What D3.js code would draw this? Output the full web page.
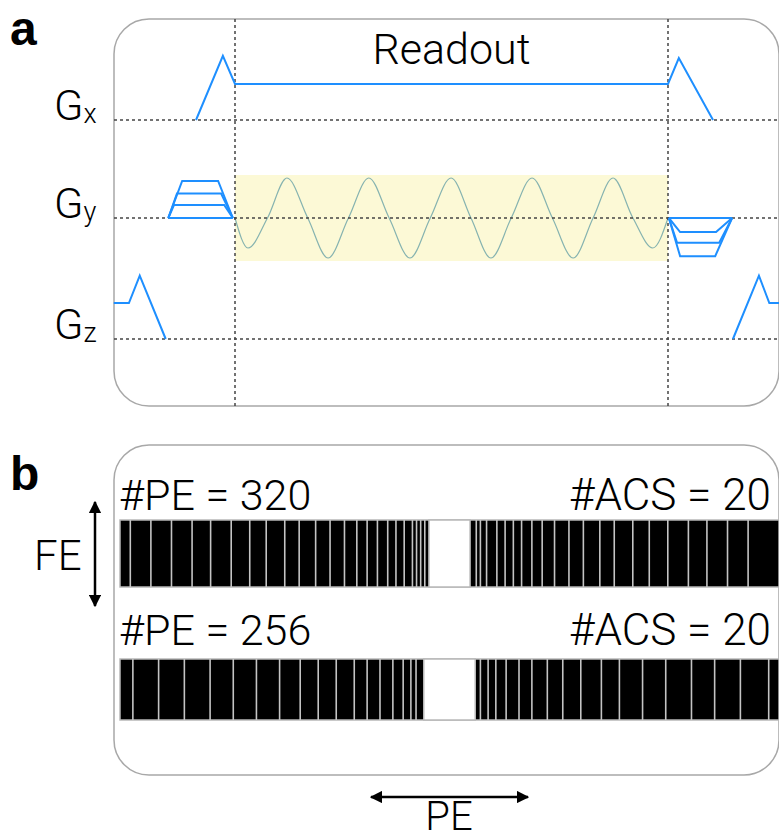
<!DOCTYPE html>
<html>
<head>
<meta charset="utf-8">
<script src="https://cdn.jsdelivr.net/npm/d3@7"></script>
<style>
  body { margin: 0; background: #fff; }
  svg { display: block; font-family: "Roboto", "Liberation Sans", sans-serif; }
</style>
</head>
<body>
<div id="chart"></div>
<script>
// time in readout units: 0 = start of readout, 100 = end of readout
// gradient amplitude in units of the readout amplitude
const gxWave = [[-9, 0], [-2.8, 1.78], [0, 1], [100, 1], [102.5, 1.72], [110.4, 0]];
const gzWaveLeft = [[-28, 1], [-24.5, 1], [-22, 1.76], [-16, 0]];
const gzWaveRight = [[115, 0], [121, 1.76], [123.4, 1], [126, 1]];

// phase encoding blips: [ramp-up end, ramp-down start, amplitude]
const gyBlipStart = [-15.4, -0.5];
const gyBlipLevels = [[-12.2, -3.9, 1.03], [-13.4, -3.2, 0.68], [-14.1, -2.5, 0.36], [-15.4, -0.5, 0]];
const gyRewindStart = [100.2, 114.8];
const gyRewindLevels = [[102.8, 111.1, -0.39], [102.1, 111.8, -0.69], [102.8, 110.9, -1.06], [100.2, 114.8, 0]];

// sampled signal during readout: extrema and zero crossings
const signalPts = [[0, 0], [3, -0.75], [7.5, 0], [12, 1], [16.8, 0], [21.5, -1], [26.2, 0], [30.9, 1], [35.6, 0],
  [40.4, -1], [45.1, 0], [49.9, 1], [54.5, 0], [59.1, -1], [63.8, 0], [68.6, 1], [73.3, 0], [78.1, -1],
  [82.7, 0], [87.3, 1], [91.9, 0], [96.5, -0.75], [100, 0]];

const channels = ["x", "y", "z"];

// sampling masks (k-space line indices of acquired lines outside the ACS block)
const rows = [
  { pe: 320, acs: 20, acsStart: 150,
    lines: [5, 15, 25, 35, 44, 54, 63, 71, 80, 87, 95, 102, 109, 115, 120, 125, 130, 134, 138, 142, 144, 146, 148,
      173, 175, 178, 183, 187, 191, 195, 200, 205, 211, 218, 225, 233, 240, 249, 257, 266, 276, 285, 295, 305] },
  { pe: 256, acs: 20, acsStart: 118,
    lines: [5, 15, 25, 35, 44, 53, 62, 70, 77, 84, 91, 96, 101, 106, 110, 113, 115,
      140, 143, 146, 150, 155, 160, 166, 172, 179, 187, 194, 203, 212, 222, 231, 241, 252] }
];

const width = 779;
const height = 840;
const blue = "#1e8fff";

const svg = d3.select("#chart").append("svg")
  .attr("width", width)
  .attr("height", height);

// ---------- panel a ----------
const x = d3.scaleLinear().domain([0, 100]).range([235, 668]);
const baseY = { x: 120, y: 218, z: 339 };
const amp = 36;
const yFor = ch => d3.scaleLinear().domain([0, 1]).range([baseY[ch], baseY[ch] - amp]);

svg.append("rect")
  .attr("x", 114).attr("y", 19)
  .attr("width", 665).attr("height", 387)
  .attr("rx", 35)
  .attr("fill", "none")
  .attr("stroke", "#a8a8a8")
  .attr("stroke-width", 1.5);

svg.append("text")
  .attr("x", 10).attr("y", 45)
  .attr("font-size", 48).attr("font-weight", 700)
  .attr("font-family", "Liberation Sans, sans-serif")
  .text("a");

// readout band
const sy = d3.scaleLinear().domain([-1, 1]).range([258, 178]);
svg.append("rect")
  .attr("x", x(0)).attr("y", 175)
  .attr("width", x(100) - x(0)).attr("height", 86)
  .attr("fill", "#fcf9d6");

svg.append("path")
  .datum(signalPts)
  .attr("d", d3.line().x(d => x(d[0])).y(d => sy(d[1])).curve(d3.curveMonotoneX))
  .attr("fill", "none")
  .attr("stroke", "#86b3b0")
  .attr("stroke-width", 1.2);

// dashed guides
const dash = g => g.attr("stroke", "#444").attr("stroke-width", 1.5).attr("stroke-dasharray", "3,3");
channels.forEach(ch => {
  svg.append("line")
    .attr("x1", 114).attr("x2", width)
    .attr("y1", baseY[ch]).attr("y2", baseY[ch])
    .call(dash);
});
[0, 100].forEach(t => {
  svg.append("line")
    .attr("x1", x(t)).attr("x2", x(t))
    .attr("y1", 19).attr("y2", 406)
    .call(dash);
});

// channel labels
channels.forEach(ch => {
  const t = svg.append("text")
    .attr("x", 54).attr("y", baseY[ch])
    .attr("font-size", 43).attr("font-weight", 300);
  t.append("tspan").text("G");
  t.append("tspan").attr("font-size", 27).attr("dy", 3).text(ch);
});

svg.append("text")
  .attr("x", (x(0) + x(100)) / 2).attr("y", 64)
  .attr("text-anchor", "middle")
  .attr("font-size", 43).attr("font-weight", 300)
  .text("Readout");

const drawWave = (data, ch) => {
  const y = yFor(ch);
  svg.append("path")
    .datum(data)
    .attr("d", d3.line().x(d => x(d[0])).y(d => y(d[1])))
    .attr("fill", "none")
    .attr("stroke", blue)
    .attr("stroke-width", 2)
    .attr("stroke-linejoin", "miter");
};

drawWave(gxWave, "x");
drawWave(gzWaveLeft, "z");
drawWave(gzWaveRight, "z");

gyBlipLevels.forEach(l => {
  drawWave([[gyBlipStart[0], 0], [l[0], l[2]], [l[1], l[2]], [gyBlipStart[1], 0]], "y");
});
gyRewindLevels.forEach(l => {
  drawWave([[gyRewindStart[0], 0], [l[0], l[2]], [l[1], l[2]], [gyRewindStart[1], 0]], "y");
});

// ---------- panel b ----------
svg.append("rect")
  .attr("x", 114).attr("y", 445)
  .attr("width", 665).attr("height", 330)
  .attr("rx", 35)
  .attr("fill", "none")
  .attr("stroke", "#a8a8a8")
  .attr("stroke-width", 1.5);

svg.append("text")
  .attr("x", 10).attr("y", 490)
  .attr("font-size", 48).attr("font-weight", 700)
  .attr("font-family", "Liberation Sans, sans-serif")
  .text("b");

const rowBox = [{ y: 520, h: 67, label: 510 }, { y: 659, h: 61, label: 645 }];

rows.forEach((r, i) => {
  const bx = d3.scaleLinear().domain([0, r.pe]).range([120, 779]);
  const box = rowBox[i];
  const g = svg.append("g");

  g.append("text")
    .attr("x", 119).attr("y", box.label)
    .attr("font-size", 43).attr("font-weight", 300)
    .text(`#PE = ${r.pe}`);
  g.append("text")
    .attr("x", 771).attr("y", box.label)
    .attr("text-anchor", "end")
    .attr("font-size", 44).attr("font-weight", 300)
    .text(`#ACS = ${r.acs}`);

  g.append("rect")
    .attr("x", bx(0)).attr("y", box.y)
    .attr("width", bx(r.pe) - bx(0)).attr("height", box.h)
    .attr("fill", "#000")
    .attr("stroke", "#b8b8b8")
    .attr("stroke-width", 1.5);

  g.selectAll(".pe")
    .data(r.lines)
    .enter()
    .append("line")
    .attr("x1", d => bx(d)).attr("x2", d => bx(d))
    .attr("y1", box.y).attr("y2", box.y + box.h)
    .attr("stroke", "#c4c4c4")
    .attr("stroke-width", 1.6);

  g.append("rect")
    .attr("x", bx(r.acsStart)).attr("y", box.y)
    .attr("width", bx(r.acsStart + r.acs) - bx(r.acsStart)).attr("height", box.h)
    .attr("fill", "#fff")
    .attr("stroke", "#b8b8b8")
    .attr("stroke-width", 1.5);
});

// direction arrows
const defs = svg.append("defs");
defs.append("marker")
  .attr("id", "head")
  .attr("viewBox", "0 0 10 10")
  .attr("refX", 9).attr("refY", 5)
  .attr("markerWidth", 5).attr("markerHeight", 5)
  .attr("markerUnits", "strokeWidth")
  .attr("orient", "auto-start-reverse")
  .append("path")
  .attr("d", "M0,0L10,5L0,10z")
  .attr("fill", "#000");

svg.append("line")
  .attr("x1", 95).attr("x2", 95)
  .attr("y1", 502).attr("y2", 606)
  .attr("stroke", "#000").attr("stroke-width", 2.5)
  .attr("marker-start", "url(#head)")
  .attr("marker-end", "url(#head)");

svg.append("text")
  .attr("x", 34).attr("y", 570)
  .attr("font-size", 42).attr("font-weight", 300)
  .text("FE");

svg.append("line")
  .attr("x1", 371).attr("x2", 528)
  .attr("y1", 797).attr("y2", 797)
  .attr("stroke", "#000").attr("stroke-width", 2.5)
  .attr("marker-start", "url(#head)")
  .attr("marker-end", "url(#head)");

svg.append("text")
  .attr("x", 449).attr("y", 830)
  .attr("text-anchor", "middle")
  .attr("font-size", 40).attr("font-weight", 300)
  .text("PE");
</script>
</body>
</html>
